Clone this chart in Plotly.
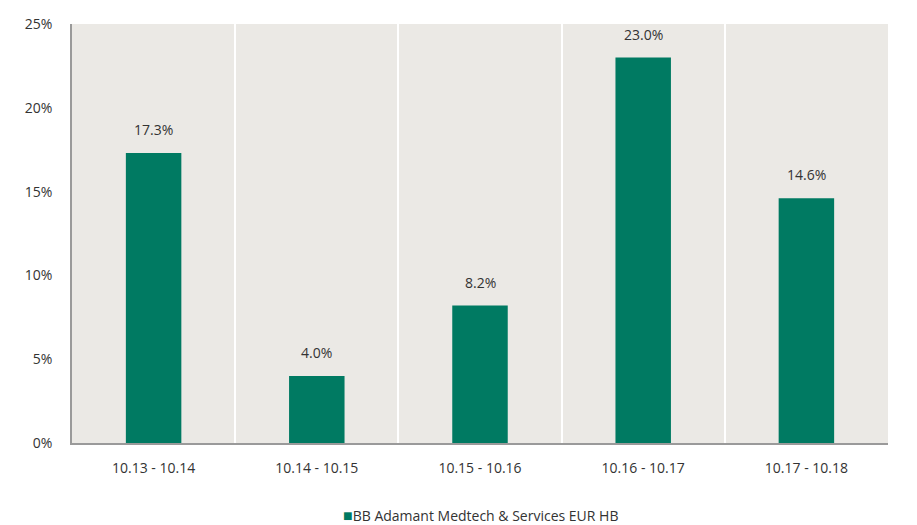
import plotly.graph_objects as go

categories = ["10.13 - 10.14", "10.14 - 10.15", "10.15 - 10.16", "10.16 - 10.17", "10.17 - 10.18"]
values = [17.3, 4.0, 8.2, 23.0, 14.6]
series_name = "BB Adamant Medtech & Services EUR HB"
y_ticks = [0, 5, 10, 15, 20, 25]
y_ticklabels = ["0%", "5%", "10%", "15%", "20%", "25%"]

BAR = "#007a62"
BG = "#ebe9e5"
TXT = "#333333"
FONT = "Open Sans"

fig = go.Figure()
fig.add_trace(go.Bar(
    x=categories, y=values, name=series_name,
    marker=dict(color=BAR, line=dict(width=0)),
    showlegend=False,
))

for c, v in zip(categories, values):
    fig.add_annotation(x=c, y=v, text=f"{v:.1f}%", showarrow=False,
                       yanchor="bottom", yshift=12,
                       font=dict(family=FONT, size=14, color=TXT))

# legend drawn as a text entry under the plot
fig.add_annotation(
    xref="paper", yref="paper", x=0.5, y=-0.172, yanchor="middle", xanchor="center",
    showarrow=False, borderpad=0,
    text=f"<span style='color:{BAR};font-size:16px'>■</span>{series_name}",
    font=dict(family=FONT, size=14, color=TXT),
)

fig.update_layout(
    width=917, height=525,
    margin=dict(l=72, r=29, t=24, b=82, autoexpand=False),
    paper_bgcolor="white", plot_bgcolor=BG,
    bargap=0.66,
    font=dict(family=FONT, size=14, color=TXT),
    showlegend=False,
)
fig.update_xaxes(
    type="category", tickson="boundaries", showgrid=True, gridcolor="white", gridwidth=1.5,
    ticks="", showline=True, linecolor="#9a9a9a", linewidth=1.5,
    ticklabelstandoff=11, tickfont=dict(family=FONT, size=14, color=TXT),
)
fig.update_yaxes(
    range=[0, 25], tickvals=y_ticks, ticktext=y_ticklabels, showgrid=False,
    zeroline=False, showline=True, linecolor="#9a9a9a", linewidth=1.5,
    ticks="", ticklabelstandoff=15, tickfont=dict(family=FONT, size=14, color=TXT),
)

fig.write_html("out.html", config={"displayModeBar": False},
               post_script="document.body.style.margin='0';document.body.style.padding='0';")
